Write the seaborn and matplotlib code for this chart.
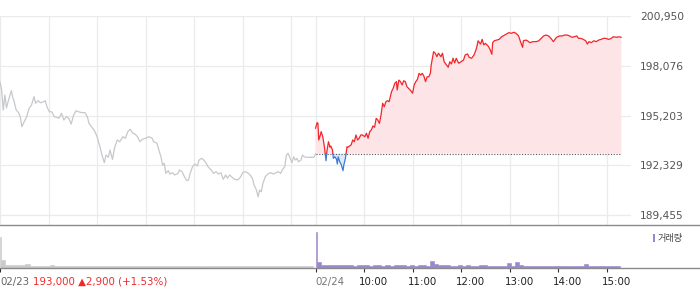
import numpy as np
import pandas as pd
import matplotlib
matplotlib.use("Agg")
import matplotlib.pyplot as plt
import seaborn as sns
from matplotlib.transforms import ScaledTranslation
from matplotlib.patches import Rectangle
from matplotlib.lines import Line2D

# ---------------- data ----------------
base_price = 193000          # previous close (dotted reference line)

# previous session (02/23): minutes since 09:00 and price
prev_min = [0, 2, 4, 6, 8, 10, 14, 16, 17, 20,
            23, 25, 27, 30, 33, 36, 39, 42, 44, 47,
            50, 54, 56, 58, 61, 64, 67, 70, 73, 76,
            79, 82, 85, 88, 91, 94, 97, 101, 105, 108,
            110, 113, 117, 120, 124, 126, 129, 131, 134, 136,
            139, 142, 145, 148, 152, 155, 158, 161, 164, 167,
            170, 173, 176, 180, 184, 188, 190, 194, 197, 199,
            201, 203, 205, 208, 210, 213, 216, 220, 222, 225,
            228, 231, 233, 235, 238, 241, 244, 246, 249, 252,
            255, 257, 261, 264, 267, 270, 273, 276, 279, 281,
            284, 287, 290, 294, 297, 300, 303, 306, 309, 312,
            314, 317, 319, 321, 323, 325, 328, 332, 335, 338,
            341, 344, 347, 349, 352, 354, 356, 358, 361, 363,
            365, 367, 369, 372, 374, 376, 379, 383, 388, 390]
prev_price = [197150, 196680, 195520, 196390, 195640, 196000, 196640, 196200, 196100, 195520,
              195370, 195130, 194560, 194850, 195130, 195620, 195810, 196290, 195910, 196060,
              195940, 196000, 196060, 195710, 195420, 195420, 195130, 195100, 195040, 195330,
              194940, 195130, 195040, 194710, 195230, 195480, 195420, 195370, 195370, 195130,
              194750, 194560, 194310, 193980, 193310, 192920, 192480, 192920, 192790, 193210,
              192670, 193400, 193790, 193690, 193980, 193890, 194270, 194410, 194180, 194130,
              193980, 193690, 193830, 193890, 193980, 193890, 193690, 193600, 193110, 192820,
              192340, 192440, 191860, 192020, 191820, 191900, 191770, 191860, 192060, 191960,
              191670, 191440, 191480, 191860, 192250, 192400, 192290, 192630, 192730, 192630,
              192440, 192250, 192060, 191860, 191960, 191820, 191900, 191520, 191770, 191580,
              191770, 191630, 191520, 191480, 191630, 191900, 191960, 191900, 191770, 191580,
              191190, 190900, 190510, 190900, 190800, 191290, 191670, 191860, 191900, 191820,
              191900, 191960, 191860, 192060, 192250, 192920, 193020, 192820, 192480, 192820,
              192630, 192730, 192530, 192630, 192920, 192820, 192790, 192790, 192790, 193000]

# current session (02/24): minutes since 09:00 and price
today_min = [0, 2, 3, 4, 6, 7, 9, 11, 12, 13,
             14, 16, 18, 19, 21, 22, 24, 26, 27, 28,
             30, 32, 34, 35, 37, 39, 40, 42, 44, 46,
             48, 50, 52, 54, 56, 58, 61, 63, 65, 67,
             69, 71, 73, 75, 77, 79, 81, 83, 85, 87,
             89, 91, 94, 96, 98, 100, 101, 103, 105, 107,
             109, 111, 113, 115, 117, 120, 122, 124, 126, 128,
             130, 132, 134, 136, 138, 140, 142, 143, 146, 148,
             150, 152, 155, 157, 159, 162, 164, 166, 168, 170,
             172, 174, 177, 180, 183, 185, 188, 190, 193, 196,
             199, 201, 204, 206, 208, 210, 212, 214, 216, 218,
             219, 221, 224, 227, 230, 232, 236, 239, 242, 245,
             248, 251, 253, 256, 257, 260, 262, 265, 269, 273,
             276, 279, 282, 285, 288, 291, 294, 296, 298, 302,
             305, 308, 311, 314, 317, 320, 323, 325, 328, 331,
             334, 336, 338, 341, 344, 347, 350, 353, 356, 359,
             362, 365, 368, 372, 375, 378]
today_price = [194460, 194790, 194750, 193790, 194080, 194270, 193980, 193400, 193000, 192590,
               193110, 193690, 193370, 193440, 193210, 192730, 192820, 192670, 192400, 192820,
               192530, 192340, 192020, 192340, 192730, 193400, 193370, 193440, 193500, 193790,
               193690, 194080, 193790, 193890, 194080, 194080, 193980, 194180, 193890, 194270,
               194370, 194600, 194520, 195040, 194940, 194750, 195230, 195910, 195710, 196000,
               196060, 196000, 196580, 196770, 197060, 197160, 196680, 197250, 197160, 196970,
               197210, 197160, 196870, 196770, 196680, 196490, 196970, 197160, 197290, 197640,
               197540, 197640, 197480, 197160, 197440, 197440, 197640, 198120, 198890, 198800,
               198600, 198800, 198600, 198800, 198310, 198120, 197990, 198310, 198180, 198510,
               198250, 198510, 198220, 198310, 198410, 198700, 198760, 198560, 198510, 198700,
               199080, 199520, 199330, 199600, 199280, 199370, 199280, 199180, 198990, 198740,
               199410, 199520, 199560, 199600, 199750, 199800, 199910, 199990, 199950, 200010,
               199950, 199800, 199520, 199140, 199520, 199560, 199520, 199410, 199470, 199470,
               199520, 199660, 199800, 199850, 199800, 199660, 199470, 199600, 199720, 199800,
               199800, 199850, 199850, 199800, 199720, 199750, 199800, 199660, 199660, 199600,
               199520, 199330, 199470, 199410, 199520, 199470, 199560, 199600, 199660, 199660,
               199600, 199640, 199750, 199720, 199750, 199720]

# volume: first value = opening minute, then 5-minute buckets
prev_vol = [310, 77, 33, 30, 28, 27, 30, 43, 25, 22,
            24, 22, 20, 33, 21, 20, 22, 24, 20, 19,
            21, 23, 20, 18, 20, 19, 22, 20, 18, 19,
            21, 18, 20, 19, 20, 18, 19, 24, 20, 21,
            19, 18, 20, 19, 18, 20, 19, 22, 18, 17,
            19, 20, 18, 19, 18, 20, 21, 19, 18, 17,
            19, 18, 20, 24, 19, 18, 20, 19, 21, 18,
            19, 20, 18, 19, 20, 21, 19, 22]
today_vol = [362, 60, 32, 30, 28, 30, 27, 29, 26, 28,
             25, 27, 26, 30, 25, 35, 26, 24, 27, 25,
             30, 28, 26, 25, 27, 24, 26, 28, 25, 67,
             43, 30, 27, 26, 25, 24, 26, 25, 27, 24,
             25, 28, 27, 24, 23, 25, 22, 24, 53, 23,
             60, 30, 24, 22, 23, 21, 22, 20, 23, 21,
             22, 20, 21, 22, 20, 21, 22, 43, 20, 21,
             22, 20, 19, 21, 22, 17]

y_ticks = [189455, 192329, 195203, 198076, 200950]
tick_minutes = [0, 390, 450, 510, 570, 630, 690, 750]
tick_labels = ["02/23", "02/24", "10:00", "11:00", "12:00", "13:00", "14:00", "15:00"]
summary_text = "193,000 \u25B22,900 (+1.53%)"
legend_text = "거래량"

assert len(prev_min) == len(prev_price)
assert len(today_min) == len(today_price)

# ---------------- style ----------------
RED = "#f2262c"
BLUE = "#3a7bd6"
PINK = "#fde4e6"
LBLUE = "#dce9f8"
GRAY_LINE = "#c6c8cc"
GRID = "#ebebeb"
PURPLE = "#9a88cc"
VOL_GRAY = "#cacaca"

sns.set_theme(style="white")
plt.rcParams["font.family"] = ["DejaVu Sans", "Noto Sans CJK KR"]

W, H = 700, 289
SESSION = 390
fig = plt.figure(figsize=(W / 100, H / 100), dpi=100)
fig.patch.set_facecolor("white")
ax = fig.add_axes([0, (H - 225) / H, 631 / W, (225 - 16) / H])
axv = fig.add_axes([0, (H - 268) / H, 631 / W, (268 - 225) / H])

# ---------------- price panel ----------------
df_prev = pd.DataFrame({"minute": prev_min, "price": prev_price})
sns.lineplot(data=df_prev, x="minute", y="price", color=GRAY_LINE, lw=0.9, ax=ax)

tx = SESSION + np.asarray(today_min, dtype=float)
ty = np.asarray(today_price, dtype=float)
# insert baseline crossings so red/blue parts meet exactly
xs, ys = [tx[0]], [ty[0]]
for i in range(1, len(tx)):
    y0, y1 = ty[i - 1], ty[i]
    if (y0 - base_price) * (y1 - base_price) < 0:
        xc = tx[i - 1] + (base_price - y0) * (tx[i] - tx[i - 1]) / (y1 - y0)
        xs.append(xc)
        ys.append(base_price)
    xs.append(tx[i])
    ys.append(ty[i])
xs = np.array(xs)
ys = np.array(ys)

rows = []
run, cur = -1, None
for j in range(len(xs) - 1):
    s = "up" if (ys[j] + ys[j + 1]) / 2 >= base_price else "down"
    if s != cur:
        run += 1
        cur = s
        rows.append((xs[j], ys[j], run, s))
    rows.append((xs[j + 1], ys[j + 1], run, s))
df_today = pd.DataFrame(rows, columns=["x", "y", "run", "sign"])

ax.fill_between(xs, ys, base_price, where=ys >= base_price, interpolate=True,
                color=PINK, lw=0, zorder=1)
ax.fill_between(xs, ys, base_price, where=ys <= base_price, interpolate=True,
                color=LBLUE, lw=0, zorder=1)
sns.lineplot(data=df_today, x="x", y="y", units="run", estimator=None, hue="sign",
             palette={"up": RED, "down": BLUE}, legend=False, lw=0.9, sort=False,
             ax=ax, zorder=3)
ax.hlines(base_price, SESSION, tx[-1], colors="#555555", linestyles=(0, (1, 1.5)),
          lw=0.8, zorder=2)

grid_x = [0, 60, 120, 180, 240, 300, 360, 390, 450, 510, 570, 630, 690, 750]
ax.set_xlim(0, 2 * SESSION)
ax.set_ylim(188880, 200950)
ax.set_xticks(grid_x)
ax.set_yticks(y_ticks)
ax.set_yticklabels([f"{v:,}" for v in y_ticks])
ax.yaxis.tick_right()
ax.grid(True, color=GRID, lw=0.9)
ax.set_axisbelow(True)
ax.tick_params(axis="x", length=0, labelbottom=False)
ax.tick_params(axis="y", length=0, pad=6.3, labelsize=7.7, labelcolor="#555555")
ax.set_xlabel("")
ax.set_ylabel("")
for s in ax.spines.values():
    s.set_visible(False)

# ---------------- volume panel ----------------
for vol, off, col in [(prev_vol, 0, VOL_GRAY), (today_vol, SESSION, PURPLE)]:
    edges = [float(off)] + [off + 1.5 + 5.0 * k for k in range(len(vol))]
    centers = [(a + b) / 2 for a, b in zip(edges[:-1], edges[1:])]
    dfv = pd.DataFrame({"minute": centers, "volume": vol})
    sns.histplot(data=dfv, x="minute", weights="volume", bins=edges, color=col,
                 alpha=1, linewidth=0.4, edgecolor=col, element="bars", ax=axv)

axv.set_xlim(0, 2 * SESSION)
axv.set_ylim(0, 430)
axv.set_yticks([])
axv.set_ylabel("")
axv.set_xlabel("")
for s in axv.spines.values():
    s.set_visible(False)
axv.set_xticks(tick_minutes)
axv.set_xticklabels(tick_labels)
axv.tick_params(axis="x", direction="out", length=2.9, width=0.8, color="#333333",
                pad=3.4, labelsize=7.4, bottom=True)
label_colors = ["#666666", "#777777"] + ["#222222"] * 6
for lab, c, name in zip(axv.get_xticklabels(), label_colors, tick_labels):
    lab.set_ha("left")
    lab.set_color(c)
    dx = 0 if "/" in name else -5 / 100
    lab.set_transform(lab.get_transform() + ScaledTranslation(dx, 0, fig.dpi_scale_trans))

fig.text(33.0 / W, (H - (268 + 4 + 4.7)) / H, summary_text, color="#ee2b2b",
         fontsize=7.4, ha="left", va="top")

# legend for volume
fig.patches.append(Rectangle((652.5 / W, (H - 242) / H), 2.6 / W, 8 / H,
                             transform=fig.transFigure, color=PURPLE, lw=0))
fig.text(658 / W, (H - 238.5) / H, legend_text, color="#444444", fontsize=6.6,
         family=["Noto Sans CJK KR", "DejaVu Sans"], ha="left", va="center")

# panel separators
for yy in (225, 268):
    fig.add_artist(Line2D([0, 1], [(H - yy) / H] * 2, transform=fig.transFigure,
                          color="#8a8a8a", lw=1.0))

fig.savefig("out.png", dpi=100)
